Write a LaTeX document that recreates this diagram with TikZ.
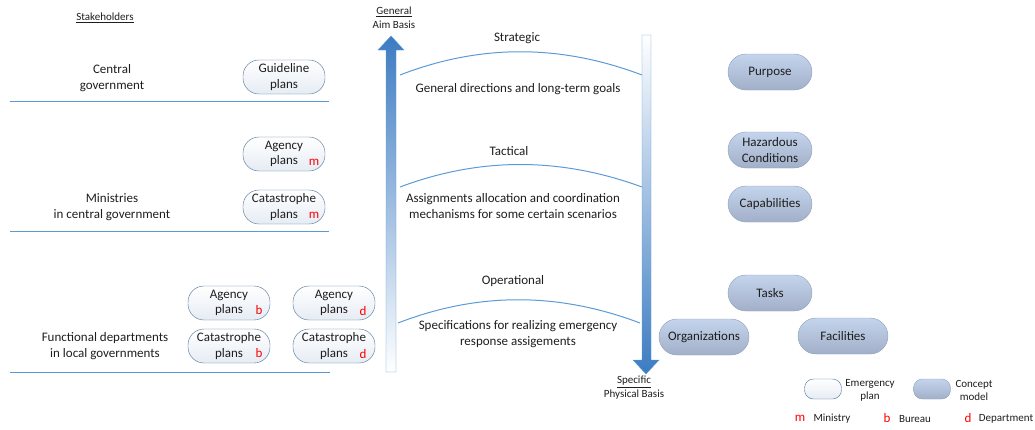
\documentclass[tikz,border=0pt]{standalone}
\usepackage{fontspec}
\setmainfont{Carlito}
\usepackage{tikz}

\definecolor{lineblue}{HTML}{5B9BD5}
\definecolor{arrowblue}{HTML}{3C7BC2}
\definecolor{planedge}{HTML}{4A6F96}
\definecolor{planfill}{HTML}{E6ECF4}
\definecolor{conceptedge}{HTML}{8C9EB9}
\definecolor{conceptlight}{HTML}{C4D4EC}
\definecolor{conceptdark}{HTML}{A1B0C8}
\definecolor{ink}{HTML}{1E1E1E}

\tikzset{
  txt/.style={text=ink, align=center, inner sep=0pt, font=\fontsize{13}{15.5}\selectfont},
  small/.style={text=ink, align=center, inner sep=0pt, font=\fontsize{11}{13}\selectfont},
  plan/.style={txt, draw=planedge, rounded corners=16pt, minimum width=82pt, minimum height=34pt, top color=white, bottom color=planfill},
  concept/.style={txt, draw=conceptedge, rounded corners=18pt, minimum width=84pt, minimum height=36pt, top color=conceptlight, bottom color=conceptdark},
  redmark/.style={text=red, inner sep=0pt, font=\fontsize{13}{15}\selectfont},
  level/.style={draw=lineblue, line width=1pt}
}

\begin{document}
\begin{tikzpicture}[x=1pt,y=-1pt]
\useasboundingbox (0,0) rectangle (1035,429);

% stakeholders
\node[small] (stake) at (105,18) {\underline{Stakeholders}};
\node[txt] (central) at (112,78) {Central\\government};
\node[txt] (ministries) at (112,207) {Ministries\\in central government};
\node[txt] (functional) at (105,346) {Functional departments\\in local governments};
\draw[level] (10,101) -- (329,101);
\draw[level] (10,231) -- (329,231);
\draw[level] (10,372) -- (330,372);

% emergency plans
\node[plan] (guide) at (284,77) {Guideline\\plans};
\node[plan] (agm) at (284,154) {Agency\\plans};
\node[plan] (catm) at (284,207) {Catastrophe\\plans};
\node[plan] (agb) at (229,303) {Agency\\plans};
\node[plan] (agd) at (334,303) {Agency\\plans};
\node[plan] (catb) at (229,346) {Catastrophe\\plans};
\node[plan] (catd) at (334,346) {Catastrophe\\plans};
\node[redmark] (mkm1) at (314,162) {m};
\node[redmark] (mkm2) at (314,215) {m};
\node[redmark] (mkb1) at (259,310) {b};
\node[redmark] (mkb2) at (259,353) {b};
\node[redmark] (mkd1) at (363,311) {d};
\node[redmark] (mkd2) at (363,354) {d};

% general / specific arrows
\shade[top color=arrowblue, bottom color=white, draw=lineblue]
  (386,372) -- (386,50) -- (378,50) -- (391,36) -- (404,50) -- (396,50) -- (396,372) -- cycle;
\node[small] (general) at (394,12) {\underline{General}};
\node[small] (aim) at (394,25) {Aim Basis};
\shade[top color=white, bottom color=arrowblue, draw=lineblue]
  (642,35) -- (651,35) -- (651,360) -- (659,360) -- (646,374) -- (633,360) -- (642,360) -- cycle;
\node[small] (specific) at (634,382) {\underline{Specific}};
\node[small] (physical) at (634,395) {Physical Basis};

% levels
\draw[level] (400,75) .. controls (480,44) and (560,44) .. (642,75);
\draw[level] (400,187) .. controls (480,157) and (560,157) .. (642,187);
\draw[level] (398,323) .. controls (478,292) and (558,292) .. (640,323);
\node[txt] (strategic) at (517,38) {Strategic};
\node[txt] (strat) at (518,89) {General directions and long-term goals};
\node[txt] (tactical) at (509,151) {Tactical};
\node[txt] (tact) at (513,206) {Assignments allocation and coordination\\mechanisms for some certain scenarios};
\node[txt] (operational) at (513,281) {Operational};
\node[txt] (oper) at (518,334) {Specifications for realizing emergency\\response assigements};

% concept model
\node[concept] (purpose) at (770,72) {Purpose};
\node[concept] (hazard) at (770,150) {Hazardous\\Conditions};
\node[concept] (capab) at (770,204) {Capabilities};
\node[concept] (tasks) at (770,293) {Tasks};
\node[concept, minimum width=90pt] (orgs) at (704,337) {Organizations};
\node[concept, minimum width=90pt] (facil) at (843,336) {Facilities};

% legend
\node[plan, minimum width=37pt, minimum height=20pt, rounded corners=9pt] (lgplan) at (823,389) {};
\node[small] (lgplantxt) at (870,390) {Emergency\\plan};
\node[concept, minimum width=37pt, minimum height=20pt, rounded corners=9pt] (lgconcept) at (932,389) {};
\node[small] (lgconcepttxt) at (974,390) {Concept\\model};
\node[redmark] (lgm) at (800,418) {m};
\node[small] (lgmtxt) at (832,419) {Ministry};
\node[redmark] (lgb) at (887,418) {b};
\node[small] (lgbtxt) at (915,419) {Bureau};
\node[redmark] (lgd) at (968,418) {d};
\node[small] (lgdtxt) at (1006,419) {Department};
\end{tikzpicture}
\end{document}
